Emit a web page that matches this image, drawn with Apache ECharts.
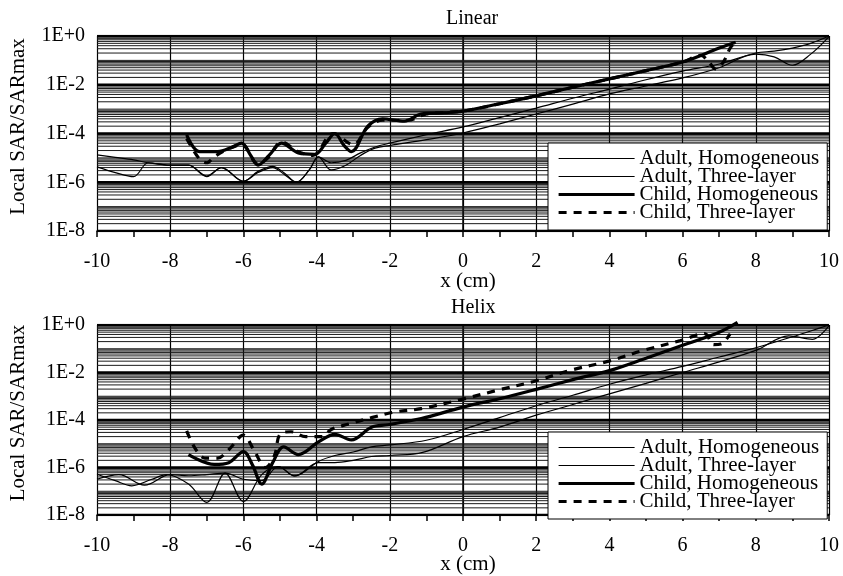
<!DOCTYPE html>
<html>
<head>
<meta charset="utf-8">
<script src="https://cdn.jsdelivr.net/npm/echarts@6/dist/echarts.min.js"></script>
<style>
  html, body { margin: 0; padding: 0; background: #fff; }
  #main { width: 843px; height: 576px; }
</style>
</head>
<body>
<div id="main"></div>
<script>
const FONT = 'Liberation Serif';

const seriesNames = ['Adult, Homogeneous', 'Adult, Three-layer', 'Child, Homogeneous', 'Child, Three-layer'];
const panelTitles = ['Linear', 'Helix'];
const yTickValues = [1e-8, 1e-6, 1e-4, 1e-2, 1];

// ---- Linear antenna (top panel), x in cm, local SAR / SARmax ----
const linAdultHomX = [-10, -9.5, -9, -8.6, -8, -7.5, -7, -6.6, -6, -5.6, -5.2, -4.9, -4.55, -4.2, -3.95, -3.6, -3.2, -2.8, -2.4, -2, -1, 0, 1, 2, 3, 4, 5, 6, 7, 8, 8.5, 9, 9.5, 10];
const linAdultHomY = [1.32e-5, 1.05e-5, 8.3e-6, 6.3e-6, 5.0e-6, 5.0e-6, 1.8e-6, 4.0e-6, 1.1e-6, 2.8e-6, 4.5e-6, 2.5e-6, 1.0e-6, 3.2e-6, 1.1e-5, 6.3e-6, 7.9e-6, 1.6e-5, 2.8e-5, 4.0e-5, 8.9e-5, 1.86e-4, 4.5e-4, 1.1e-3, 2.8e-3, 6.6e-3, 1.6e-2, 3.6e-2, 7.1e-2, 0.2, 0.24, 0.32, 0.5, 1.0];

const linAdultThreeX = [-10, -9.5, -9, -8.6, -8, -7.5, -7, -6.6, -6, -5.6, -5.2, -4.9, -4.55, -4.2, -3.95, -3.6, -3.2, -2.8, -2.4, -2, -1, 0, 1, 2, 3, 4, 5, 6, 7, 8, 8.5, 9, 9.5, 10];
const linAdultThreeY = [4.3e-6, 2.5e-6, 1.7e-6, 6.3e-6, 5.0e-6, 5.0e-6, 1.7e-6, 4.0e-6, 1.1e-6, 2.5e-6, 4.0e-6, 2.2e-6, 1.0e-6, 3.2e-6, 1.1e-5, 3.2e-6, 5.0e-6, 1.26e-5, 2.5e-5, 3.2e-5, 5.6e-5, 1.05e-4, 2.5e-4, 6.3e-4, 1.6e-3, 4.2e-3, 8.9e-3, 1.9e-2, 5.0e-2, 0.18, 0.14, 0.063, 0.18, 0.95];

const linChildHomX = [-7.55, -7.2, -6.7, -6.3, -6.05, -5.8, -5.6, -5.3, -4.96, -4.5, -4.05, -3.75, -3.5, -3.25, -3.05, -2.6, -2.2, -1.6, -1.15, -0.5, 0, 1, 2, 3, 4, 5, 6, 7, 7.45];
const linChildHomY = [8.7e-5, 1.8e-5, 1.8e-5, 2.8e-5, 4.0e-5, 1.26e-5, 5.0e-6, 1.26e-5, 4.0e-5, 1.6e-5, 1.4e-5, 4.0e-5, 1.0e-4, 3.2e-5, 1.8e-5, 2.0e-4, 4.0e-4, 3.2e-4, 6.3e-4, 7.1e-4, 8.3e-4, 1.66e-3, 3.5e-3, 7.9e-3, 1.74e-2, 3.8e-2, 8.5e-2, 0.32, 0.56];

const linChildThreeX = [-7.55, -7.2, -7.0, -6.8, -6.5, -6.05, -5.6, -5.3, -4.96, -4.5, -4.1, -3.55, -3.0, -2.6, -2.2, -1.5, -1, 0, 1, 2, 3, 4, 5, 6, 6.5, 6.7, 6.9, 7.1, 7.3, 7.4];
const linChildThreeY = [6.3e-5, 8.9e-6, 6.3e-6, 1.1e-5, 2.0e-5, 3.5e-5, 5.6e-6, 1.1e-5, 4.5e-5, 1.8e-5, 1.26e-5, 1.0e-4, 3.5e-5, 1.8e-4, 3.5e-4, 3.5e-4, 6.3e-4, 8.3e-4, 1.66e-3, 3.5e-3, 7.9e-3, 1.74e-2, 3.8e-2, 8.5e-2, 0.16, 0.093, 0.045, 0.079, 0.32, 0.5];

// ---- Helix antenna (bottom panel) ----
const helAdultHomX = [-10, -9.5, -9.05, -8.5, -8.1, -7.5, -7.0, -6.5, -6.0, -5.5, -5.05, -4.6, -3.95, -3.5, -3, -2.5, -2, -1, 0, 1, 2, 3, 4, 5, 6, 7, 8, 9, 9.5, 10];
const helAdultHomY = [5.2e-7, 2.8e-7, 1.7e-7, 3.2e-7, 5.0e-7, 2.0e-7, 3.4e-8, 5.8e-7, 3.7e-8, 5.0e-7, 1.1e-6, 4.4e-7, 1.8e-6, 3.2e-6, 4.5e-6, 7.4e-6, 8.9e-6, 1.4e-5, 4.0e-5, 1.26e-4, 4.0e-4, 1.1e-3, 3.2e-3, 7.9e-3, 1.8e-2, 4.5e-2, 0.11, 0.32, 0.56, 1.0];

const helAdultThreeX = [-10, -9.4, -8.7, -8.0, -7.5, -7.0, -6.5, -6.0, -5.5, -5.05, -4.6, -3.95, -3.5, -3, -2.5, -2, -1.1, 0, 1, 2, 3, 4, 5, 6, 7, 8, 8.9, 9.55, 10];
const helAdultThreeY = [3.2e-7, 5.0e-7, 1.8e-7, 5.0e-7, 4.5e-7, 5.0e-7, 5.8e-7, 3.2e-7, 2.8e-7, 1.1e-6, 4.4e-7, 1.6e-6, 1.6e-6, 2.0e-6, 2.9e-6, 3.2e-6, 4.3e-6, 2.0e-5, 5.0e-5, 1.6e-4, 4.5e-4, 1.26e-3, 3.5e-3, 1.0e-2, 2.8e-2, 8.5e-2, 0.35, 0.25, 0.95];

const helChildHomX = [-7.5, -6.8, -6.4, -6.0, -5.75, -5.5, -5.2, -4.9, -4.5, -3.95, -3.5, -3.05, -2.5, -2.05, -1.14, 0, 1, 2, 3, 4, 5, 6, 7, 7.5];
const helChildHomY = [3.5e-6, 1.35e-6, 1.6e-6, 4.7e-6, 1.26e-6, 2.0e-7, 1.6e-6, 7.4e-6, 3.5e-6, 1.2e-5, 2.5e-5, 1.45e-5, 5.0e-5, 6.3e-5, 1.15e-4, 3.5e-4, 7.9e-4, 1.95e-3, 5.0e-3, 1.2e-2, 4.0e-2, 0.14, 0.5, 1.3];

const helChildThreeX = [-7.55, -7.05, -6.7, -6.4, -6.0, -5.7, -5.4, -5.15, -5.0, -4.7, -4.3, -3.85, -3.6, -3.15, -2.5, -1.85, -1.14, 0, 0.95, 1.93, 2.99, 3.98, 4.93, 5.94, 6.6, 6.85, 7.05, 7.3];
const helChildThreeY = [3.5e-5, 2.5e-6, 2.5e-6, 5.6e-6, 2.3e-5, 5.0e-6, 1.0e-6, 3.2e-6, 2.5e-5, 3.2e-5, 2.0e-5, 2.0e-5, 4.0e-5, 6.6e-5, 1.26e-4, 2.2e-4, 3.0e-4, 7.6e-4, 1.8e-3, 4.2e-3, 1.3e-2, 3.0e-2, 8.5e-2, 0.22, 0.43, 0.15, 0.16, 0.43];

const panels = [
  [[linAdultHomX, linAdultHomY], [linAdultThreeX, linAdultThreeY], [linChildHomX, linChildHomY], [linChildThreeX, linChildThreeY]],
  [[helAdultHomX, helAdultHomY], [helAdultThreeX, helAdultThreeY], [helChildHomX, helChildHomY], [helChildThreeX, helChildThreeY]]
];

const lineStyles = [
  { color: '#000', width: 1.2, type: 'solid' },
  { color: '#000', width: 1.2, type: 'solid' },
  { color: '#000', width: 3.2, type: 'solid' },
  { color: '#000', width: 3.2, type: [8, 7] }
];

function pairs(xs, ys) {
  return xs.map((x, i) => [x, ys[i]]);
}

// horizontal log gridlines drawn as broken line series across the x range
function hLines(values) {
  const d = [];
  values.forEach(v => { d.push([-10, v], [10, v], [0, '-']); });
  return d;
}
const majorGrid = [];
const minorGrid = [];
for (let e = -8; e <= 0; e++) {
  const base = Math.pow(10, e);
  if (e % 2 === 0) majorGrid.push(base); else minorGrid.push(base);
  if (e < 0) for (let k = 2; k <= 9; k++) minorGrid.push(k * base);
}

const gridTops = [36, 325];
const legendTops = [143, 432];
const titleLefts = [446, 451];
const titleTops = [9, 298];
const xNameGaps = [40, 39];

const option = {
  animation: false,
  backgroundColor: '#fff',
  textStyle: { fontFamily: FONT, color: '#000' },
  title: panelTitles.map((t, i) => ({
    text: t, left: titleLefts[i], top: titleTops[i], padding: 0,
    textStyle: { fontFamily: FONT, fontSize: 20, fontWeight: 'normal', color: '#000' }
  })),
  legend: legendTops.map(top => ({
    data: seriesNames.map((n, k) => ({ name: n, lineStyle: lineStyles[k] })),
    orient: 'vertical', align: 'left',
    left: 548, top: top,
    itemWidth: 76, itemHeight: 14, itemGap: -3,
    padding: [5, 8, 7, 9],
    borderColor: '#000', borderWidth: 1, backgroundColor: '#fff',
    selectedMode: false,
    itemStyle: { opacity: 0, borderWidth: 0 },
    textStyle: { fontFamily: FONT, fontSize: 21, color: '#000' }
  })),
  grid: gridTops.map(top => ({ left: 95, top: top, width: 734, height: 195, containLabel: false })),
  xAxis: gridTops.map((_, i) => ({
    gridIndex: i, type: 'value', min: -10, max: 10, interval: 2,
    name: 'x (cm)', nameLocation: 'middle', nameGap: xNameGaps[i], nameMoveOverlap: false,
    nameTextStyle: { fontFamily: FONT, fontSize: 21, color: '#000', padding: [0, 0, 0, 10] },
    axisLine: { lineStyle: { color: '#000', width: 1.5 } },
    axisTick: { show: true, length: 6, lineStyle: { color: '#000', width: 1.5 } },
    minorTick: { show: true, splitNumber: 2, length: 6, lineStyle: { color: '#000', width: 1.5 } },
    axisLabel: { fontFamily: FONT, fontSize: 20, color: '#000', margin: 21, hideOverlap: false },
    splitLine: { show: true, lineStyle: { color: '#000', width: 1.2 } }
  })),
  yAxis: gridTops.map((_, i) => ({
    gridIndex: i, type: 'log', logBase: 10, min: 1e-8, max: 1,
    name: 'Local SAR/SARmax', nameLocation: 'middle', nameGap: 68,
    nameTextStyle: { fontFamily: FONT, fontSize: 21, color: '#000', padding: [0, 0, 0, 14] },
    axisLine: { show: true, lineStyle: { color: '#000', width: 1.5 } },
    axisTick: { show: true, length: 6, customValues: yTickValues, lineStyle: { color: '#000', width: 1.5 } },
    axisLabel: {
      fontFamily: FONT, fontSize: 20, color: '#000', margin: 12,
      customValues: yTickValues,
      formatter: v => {
        const e = Math.round(Math.log10(v));
        return '1E' + (e >= 0 ? '+' : '-') + Math.abs(e);
      }
    },
    splitLine: { show: false }
  })),
  series: []
};

panels.forEach((panel, p) => {
  option.series.push({
    name: 'minor grid', type: 'line', xAxisIndex: p, yAxisIndex: p,
    data: hLines(minorGrid), connectNulls: false, symbol: 'none', silent: true, z: 1,
    lineStyle: { color: '#1a1a1a', width: 1 }
  });
  option.series.push({
    name: 'major grid', type: 'line', xAxisIndex: p, yAxisIndex: p,
    data: hLines(majorGrid), connectNulls: false, symbol: 'none', silent: true, z: 1,
    lineStyle: { color: '#000', width: 2.5 }
  });
  panel.forEach((s, k) => {
    option.series.push({
      name: seriesNames[k], type: 'line', xAxisIndex: p, yAxisIndex: p,
      data: pairs(s[0], s[1]),
      symbol: 'none', smooth: 0.35, clip: false, z: 3 + k,
      itemStyle: { color: '#000' },
      lineStyle: lineStyles[k]
    });
  });
});

const chart = echarts.init(document.getElementById('main'), null, { renderer: 'canvas' });
chart.setOption(option);
</script>
</body>
</html>
